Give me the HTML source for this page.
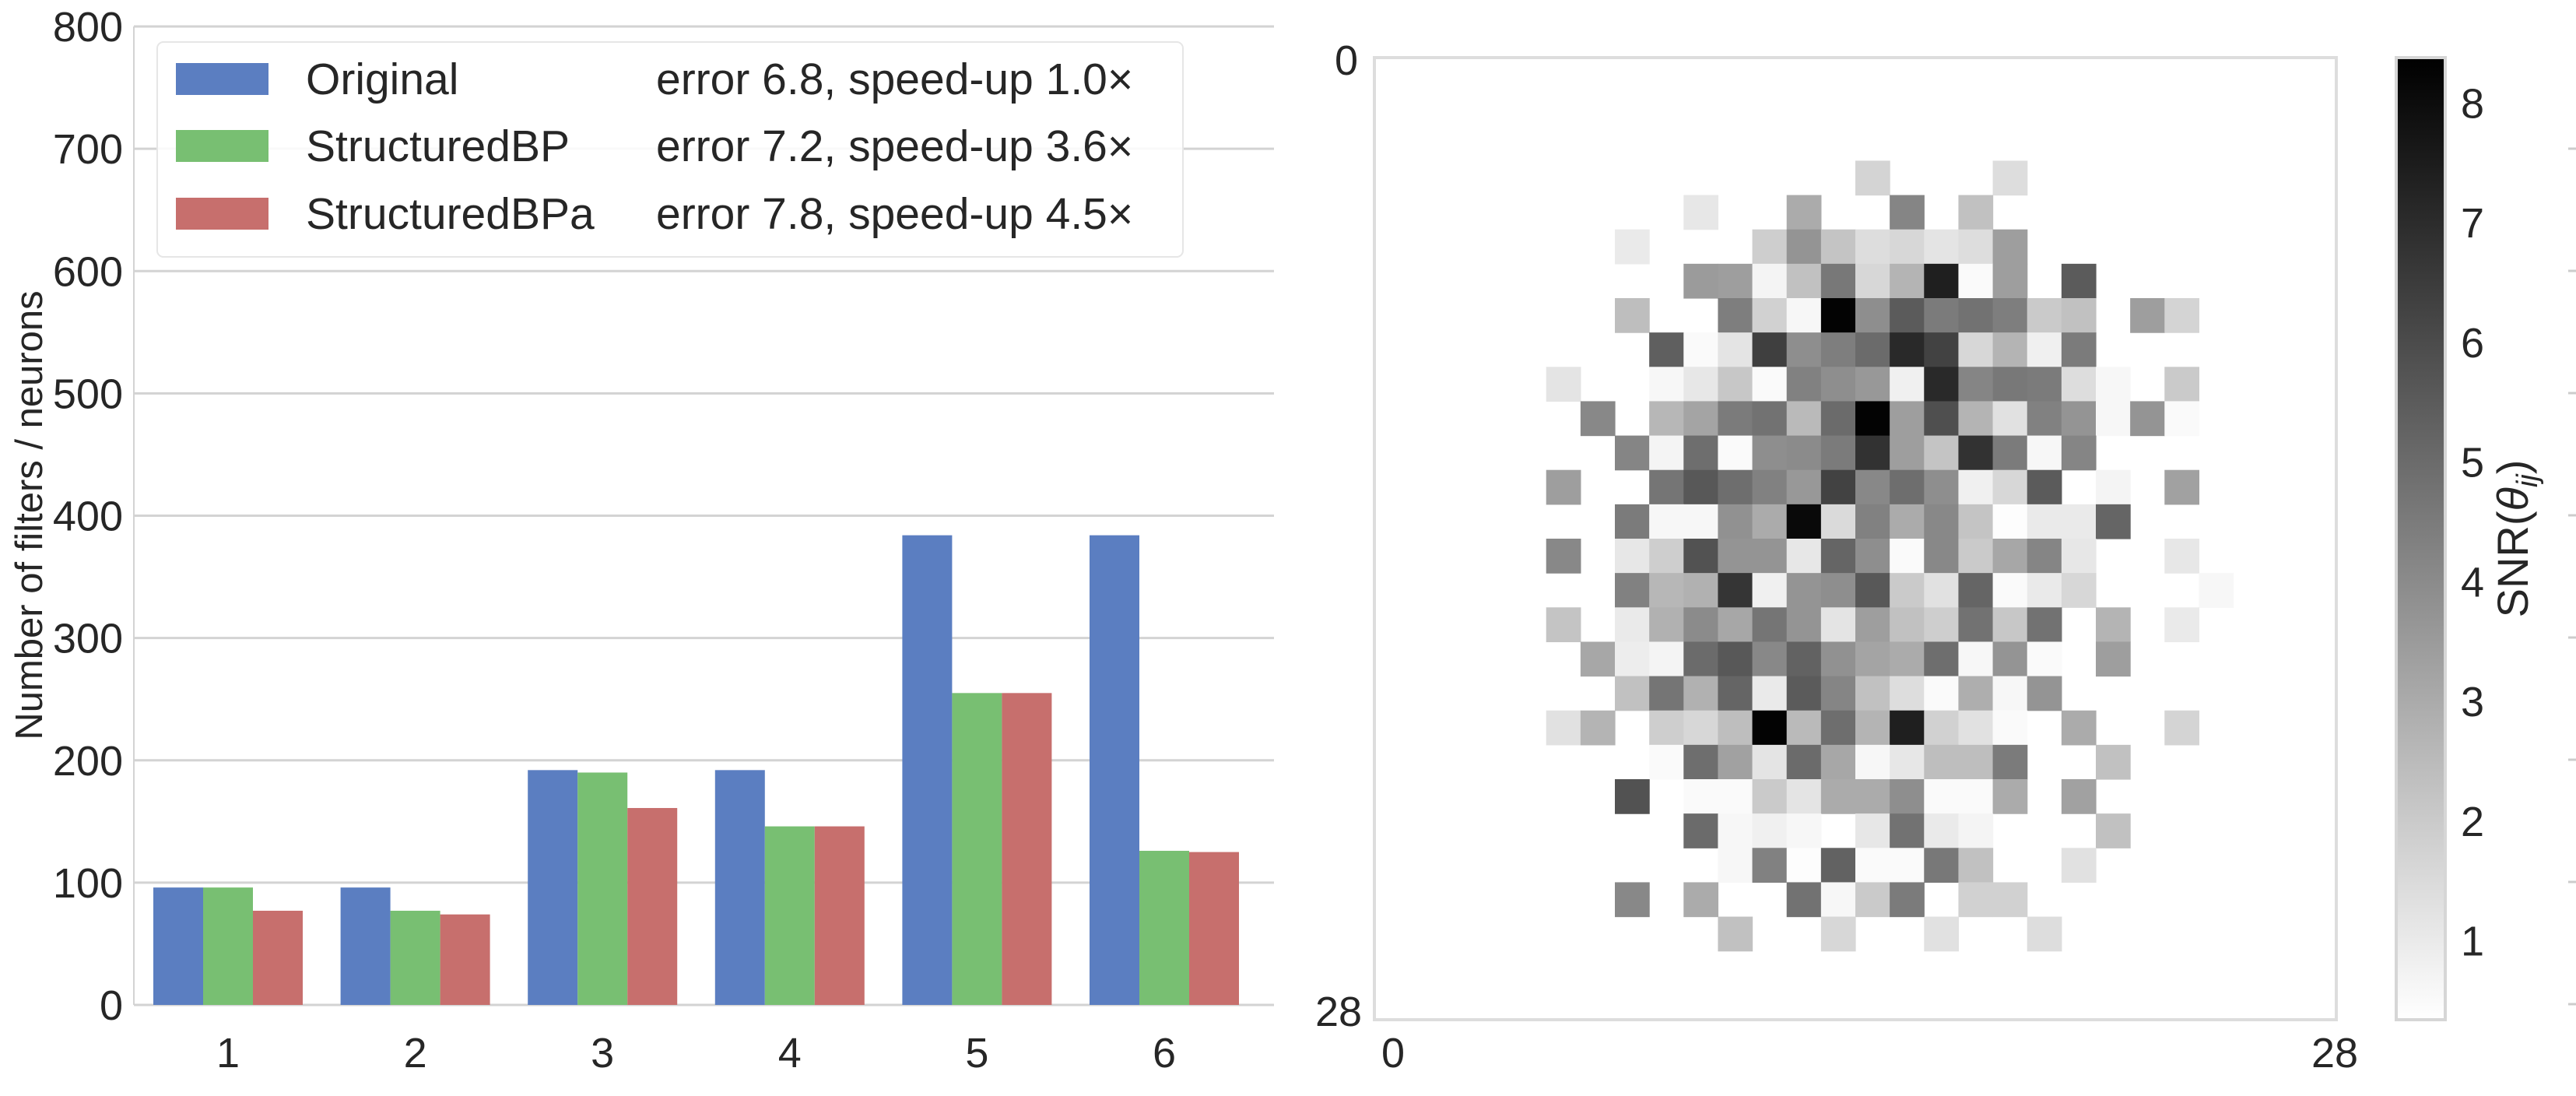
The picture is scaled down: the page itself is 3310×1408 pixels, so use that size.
<!DOCTYPE html>
<html><head><meta charset="utf-8"><style>
html,body{margin:0;padding:0;background:#fff}
svg{display:block;font-family:"Liberation Sans",sans-serif}
</style></head><body>
<svg id="fig" width="3310" height="1408" viewBox="0 0 3310 1408" xmlns="http://www.w3.org/2000/svg">
<defs><linearGradient id="cbg" x1="0" y1="1" x2="0" y2="0"><stop offset="0" stop-color="#ffffff"/><stop offset="1" stop-color="#000000"/></linearGradient></defs>
<g id="bar-chart"></g>
<g id="heatmap"></g>
</svg>
<script>
const categories = ["1","2","3","4","5","6"];
const seriesNames = ["Original","StructuredBP","StructuredBPa"];
const seriesNotes = ["error 6.8, speed-up 1.0×","error 7.2, speed-up 3.6×","error 7.8, speed-up 4.5×"];
const originalVals = [96,96,192,192,384,384];
const structuredBPVals = [96,77,190,146,255,126];
const structuredBPaVals = [77,74,161,146,255,125];
const yTicks = [0,100,200,300,400,500,600,700,800];
const cbTicks = [1,2,3,4,5,6,7,8];
const _ = null;
const snr = [
[_,_,_,_,_,_,_,_,_,_,_,_,_,_,_,_,_,_,_,_,_,_,_,_,_,_,_,_],
[_,_,_,_,_,_,_,_,_,_,_,_,_,_,_,_,_,_,_,_,_,_,_,_,_,_,_,_],
[_,_,_,_,_,_,_,_,_,_,_,_,_,_,_,_,_,_,_,_,_,_,_,_,_,_,_,_],
[_,_,_,_,_,_,_,_,_,_,_,_,_,_,1.7,_,_,_,1.4,_,_,_,_,_,_,_,_,_],
[_,_,_,_,_,_,_,_,_,1.1,_,_,3.0,_,_,4.2,_,2.3,_,_,_,_,_,_,_,_,_,_],
[_,_,_,_,_,_,_,1.0,_,_,_,1.9,3.7,2.2,1.4,1.6,1.2,1.4,3.4,_,_,_,_,_,_,_,_,_],
[_,_,_,_,_,_,_,_,_,3.5,3.4,0.7,2.3,4.6,1.6,2.7,7.4,0.5,3.4,_,5.5,_,_,_,_,_,_,_],
[_,_,_,_,_,_,_,2.4,_,_,4.4,1.8,0.6,8.3,3.9,5.5,4.5,4.8,4.4,2.0,2.3,_,3.4,1.7,_,_,_,_],
[_,_,_,_,_,_,_,_,5.4,0.5,1.2,6.4,3.9,4.4,5.0,7.1,6.3,1.6,2.7,0.8,4.5,_,_,_,_,_,_,_],
[_,_,_,_,_,1.2,_,_,0.6,1.1,2.1,0.5,4.3,3.9,3.6,0.8,7.1,4.2,4.6,4.5,1.4,0.6,_,2.0,_,_,_,_],
[_,_,_,_,_,_,4.1,_,2.6,3.2,4.5,4.8,2.5,5.0,8.3,3.4,5.9,2.7,1.3,4.3,3.7,0.6,3.7,0.5,_,_,_,_],
[_,_,_,_,_,_,_,4.2,0.7,4.9,0.5,3.9,4.0,4.5,6.8,3.4,2.2,6.8,4.5,0.6,4.2,_,_,_,_,_,_,_],
[_,_,_,_,_,3.4,_,_,4.7,5.6,4.9,4.3,3.6,6.3,4.1,4.9,3.9,0.8,1.6,5.5,_,0.7,_,3.3,_,_,_,_],
[_,_,_,_,_,_,_,4.5,0.6,0.6,3.8,3.0,8.1,1.5,4.3,3.0,4.1,2.2,0.4,1.0,1.0,5.2,_,_,_,_,_,_],
[_,_,_,_,_,4.1,_,1.1,1.9,5.8,3.7,3.7,1.1,5.2,3.9,0.5,4.1,2.0,3.1,4.2,1.1,_,_,1.1,_,_,_,_],
[_,_,_,_,_,_,_,4.3,2.6,2.8,6.7,0.8,3.7,3.9,5.6,2.0,1.3,5.2,0.5,1.0,1.6,_,_,_,0.6,_,_,_],
[_,_,_,_,_,2.2,_,1.0,2.8,4.0,3.1,4.7,3.7,1.2,3.4,2.3,1.9,4.8,2.1,4.8,_,2.7,_,1.0,_,_,_,_],
[_,_,_,_,_,_,3.1,0.9,0.7,5.0,5.6,4.1,5.3,3.8,3.2,3.0,4.9,0.6,3.7,0.5,_,3.4,_,_,_,_,_,_],
[_,_,_,_,_,_,_,2.3,4.7,2.8,5.2,1.0,5.5,4.2,2.3,1.4,0.5,2.9,0.6,3.7,_,_,_,_,_,_,_,_],
[_,_,_,_,_,1.3,2.7,_,1.9,1.6,2.4,8.3,2.5,4.9,2.7,7.4,1.8,1.3,0.5,_,3.0,_,_,1.7,_,_,_,_],
[_,_,_,_,_,_,_,_,0.5,4.9,3.3,1.2,5.0,3.1,0.6,1.1,2.4,2.4,4.5,_,_,2.3,_,_,_,_,_,_],
[_,_,_,_,_,_,_,5.8,_,0.5,0.5,2.0,1.2,3.0,3.0,3.9,0.5,0.5,3.0,_,3.3,_,_,_,_,_,_,_],
[_,_,_,_,_,_,_,_,_,5.0,0.6,0.8,0.6,_,1.1,4.8,1.0,0.7,_,_,_,2.3,_,_,_,_,_,_],
[_,_,_,_,_,_,_,_,_,_,0.6,4.3,0.4,5.3,0.5,0.5,4.6,2.3,_,_,1.3,_,_,_,_,_,_,_],
[_,_,_,_,_,_,_,4.1,_,3.0,_,_,4.8,0.6,2.0,4.5,_,1.8,1.8,_,_,_,_,_,_,_,_,_],
[_,_,_,_,_,_,_,_,_,_,2.3,_,_,1.6,_,_,1.3,_,_,1.4,_,_,_,_,_,_,_,_],
[_,_,_,_,_,_,_,_,_,_,_,_,_,_,_,_,_,_,_,_,_,_,_,_,_,_,_,_],
[_,_,_,_,_,_,_,_,_,_,_,_,_,_,_,_,_,_,_,_,_,_,_,_,_,_,_,_]
];

const NS="http://www.w3.org/2000/svg";
function mk(parent,tag,attrs,text){const e=document.createElementNS(NS,tag);for(const k in attrs)e.setAttribute(k,attrs[k]);if(text!==undefined)e.textContent=text;parent.appendChild(e);return e;}

// ---- bar chart ----
const bc=document.getElementById('bar-chart');
const axL=172, axR=1637, y0=1291, y800=34;
const yScale=v=>y0-(v/800)*(y0-y800);
const xCenter=i=>293+240.6*i;
const barW=64;
const colors=["#5b7ec1","#78bf72","#c76f6d"];
const series=[originalVals,structuredBPVals,structuredBPaVals];
yTicks.forEach(t=>{
  const y=yScale(t);
  const g=mk(bc,'line',{x1:axL,x2:axR,y1:y,y2:y,stroke:'#d3d3d3','stroke-width':3});
  
  
  const lb=mk(bc,'text',{x:158,y:y+19,'text-anchor':'end','font-size':54,fill:'#262626'},String(t));
  
  
});
const ax=mk(bc,'line',{x1:axL,x2:axL,y1:y800,y2:y0,stroke:'#d3d3d3','stroke-width':2});


categories.forEach((c,i)=>{
  series.forEach((s,j)=>{
    const x=xCenter(i)+(j-1.5)*barW;
    const r=mk(bc,'rect',{x:x,y:yScale(s[i]),width:barW,height:y0-yScale(s[i]),fill:colors[j]});
    
    
  });
  const t=mk(bc,'text',{x:xCenter(i),y:1371,'text-anchor':'middle','font-size':54,fill:'#262626'},c);
  
  
});
const yl=mk(bc,'text',{x:0,y:0,transform:'translate(54,662) rotate(-90)','text-anchor':'middle','font-size':49,fill:'#262626'},'Number of filters / neurons');


// legend
const lg=mk(bc,'g',{});


mk(lg,'rect',{x:202,y:54,width:1318,height:276,rx:8,fill:'#ffffff','fill-opacity':0.85,stroke:'#e6e6e6','stroke-width':2});
const rowsY=[101,187,274];
seriesNames.forEach((n,j)=>{
  const e=mk(lg,'g',{});
  
  
  mk(e,'rect',{x:226,y:rowsY[j]-20,width:119,height:41,fill:colors[j]});
  mk(e,'text',{x:393,y:rowsY[j]+20,'font-size':57,fill:'#262626'},n);
  mk(e,'text',{x:843,y:rowsY[j]+20,'font-size':57,fill:'#262626'},seriesNotes[j]);
});

// ---- heatmap ----
const hm=document.getElementById('heatmap');
const fx0=1766, fy0=74, fsz=1236, n=28, cs=fsz/n;
const vmin=0.34, vmax=8.38;
const grayOf=v=>{let t=(v-vmin)/(vmax-vmin);t=Math.max(0,Math.min(1,t));const g=Math.round(255*(1-t));return 'rgb('+g+','+g+','+g+')';};
snr.forEach((row,r)=>row.forEach((v,c)=>{
  if(v===null)return;
  const rc=mk(hm,'rect',{x:fx0+c*cs,y:fy0+r*cs,width:cs+0.6,height:cs+0.6,fill:grayOf(v)});
  
  
}));
const fr=mk(hm,'rect',{x:fx0,y:fy0,width:fsz,height:fsz,fill:'none',stroke:'#dddddd','stroke-width':4});


[["0",1730,fy0+22,'middle'],["28",1720,1318,'middle'],["0",1790,1371,'middle'],["28",3000,1371,'middle']].forEach(a=>{
  const t=mk(hm,'text',{x:a[1],y:a[2],'text-anchor':a[3],'font-size':54,fill:'#262626'},a[0]);
  
  
});
// colorbar
const cbx=3079, cbw=63, cbTop=74, cbBot=1310;
const cbY=v=>cbBot-(v-vmin)/(vmax-vmin)*(cbBot-cbTop);
const cb=mk(hm,'rect',{x:cbx,y:cbTop,width:cbw,height:cbBot-cbTop,fill:'url(#cbg)',stroke:'#d6d6d6','stroke-width':4});


cbTicks.forEach(t=>{
  const l=mk(hm,'text',{x:3177,y:cbY(t)+19,'text-anchor':'middle','font-size':54,fill:'#262626'},String(t));
  
  
});
const ct=mk(hm,'text',{x:0,y:0,transform:'translate(3248,692) rotate(-90)','text-anchor':'middle','font-size':56,fill:'#262626'});


ct.innerHTML='SNR(<tspan font-style="italic">θ</tspan><tspan font-style="italic" font-size="38" dy="12">ij</tspan><tspan dy="-12">)</tspan>';
[191,348,505,662,819,976,1133,1290].forEach(y=>{
  const m=mk(hm,'line',{x1:3300,x2:3310,y1:y,y2:y,stroke:'#cccccc','stroke-width':3});
  
  
});
</script>
</body></html>
